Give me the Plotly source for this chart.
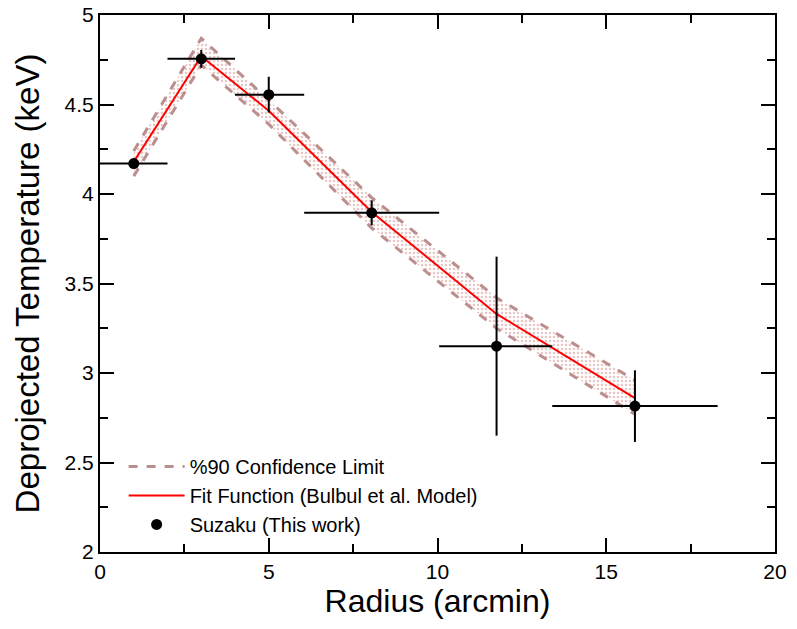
import plotly.graph_objects as go

# Data
radius = [1.0, 3.0, 5.0, 8.05, 11.75, 15.85]
temp = [4.17, 4.755, 4.555, 3.895, 3.15, 2.815]
x_minus = [1.0, 1.0, 1.0, 2.0, 1.7, 2.45]
x_plus = [1.0, 1.0, 1.05, 2.0, 1.65, 2.45]
t_minus = [0.02, 0.05, 0.10, 0.07, 0.50, 0.20]
t_plus = [0.02, 0.05, 0.10, 0.07, 0.50, 0.20]

fit_r = [1.0, 3.0, 5.0, 8.05, 11.75, 15.85]
fit_t = [4.18, 4.77, 4.465, 3.90, 3.33, 2.86]
upper_t = [4.24, 4.87, 4.525, 3.98, 3.42, 2.96]
lower_t = [4.10, 4.72, 4.39, 3.81, 3.25, 2.77]

band_color = "#bc8f8f"

fig = go.Figure()

fig.add_trace(go.Scatter(x=fit_r, y=lower_t, mode="lines",
                         line=dict(color=band_color, width=3, dash="dash"),
                         showlegend=False, hoverinfo="skip"))
fig.add_trace(go.Scatter(x=fit_r, y=upper_t, mode="lines",
                         line=dict(color=band_color, width=3, dash="dash"),
                         fill="tonexty", fillcolor="rgba(0,0,0,0)",
                         fillpattern=dict(shape=".", fgcolor="#d48f8f", bgcolor="rgba(255,255,255,0)",
                                          size=4, solidity=0.35),
                         showlegend=False))
# legend-only entries
fig.add_trace(go.Scatter(x=[None], y=[None], mode="lines",
                         line=dict(color=band_color, width=3, dash="dash"),
                         name="%90 Confidence Limit"))
fig.add_trace(go.Scatter(x=fit_r, y=fit_t, mode="lines",
                         line=dict(color="red", width=2),
                         name="Fit Function (Bulbul et al. Model)"))
fig.add_trace(go.Scatter(x=radius, y=temp, mode="markers",
                         marker=dict(color="black", size=11),
                         error_x=dict(type="data", symmetric=False, array=x_plus, arrayminus=x_minus,
                                      color="black", thickness=2, width=0),
                         error_y=dict(type="data", symmetric=False, array=t_plus, arrayminus=t_minus,
                                      color="black", thickness=2, width=0),
                         name="Suzaku (This work)"))

axis_common = dict(showline=True, linecolor="black", linewidth=2, mirror="allticks",
                   ticks="inside", ticklen=14, tickwidth=1.5, tickcolor="black",
                   showgrid=False, zeroline=False, automargin=False,
                   tickfont=dict(size=21, color="black"))

fig.update_xaxes(range=[0, 20], dtick=5, tick0=0,
                 minor=dict(dtick=2.5, ticks="inside", ticklen=8, tickwidth=1.5, tickcolor="black"),
                 title=dict(text="Radius (arcmin)", font=dict(size=32, color="black"), standoff=2),
                 **axis_common)
fig.update_yaxes(range=[2, 5], dtick=0.5, tick0=2,
                 minor=dict(dtick=0.25, ticks="inside", ticklen=8, tickwidth=1.5, tickcolor="black"),
                 title=dict(text="Deprojected Temperature (keV)", font=dict(size=33, color="black")),
                 **axis_common)

fig.update_layout(
    width=797, height=629,
    margin=dict(l=100, r=22, t=15, b=77),
    plot_bgcolor="white", paper_bgcolor="white",
    font=dict(family="Liberation Sans, Arial, sans-serif", color="black"),
    legend=dict(x=0.035, y=0.015, xanchor="left", yanchor="bottom", traceorder="normal",
                font=dict(size=20, color="black"), bgcolor="rgba(0,0,0,0)",
                tracegroupgap=0, itemwidth=56),
)

fig.write_html("out.html")
